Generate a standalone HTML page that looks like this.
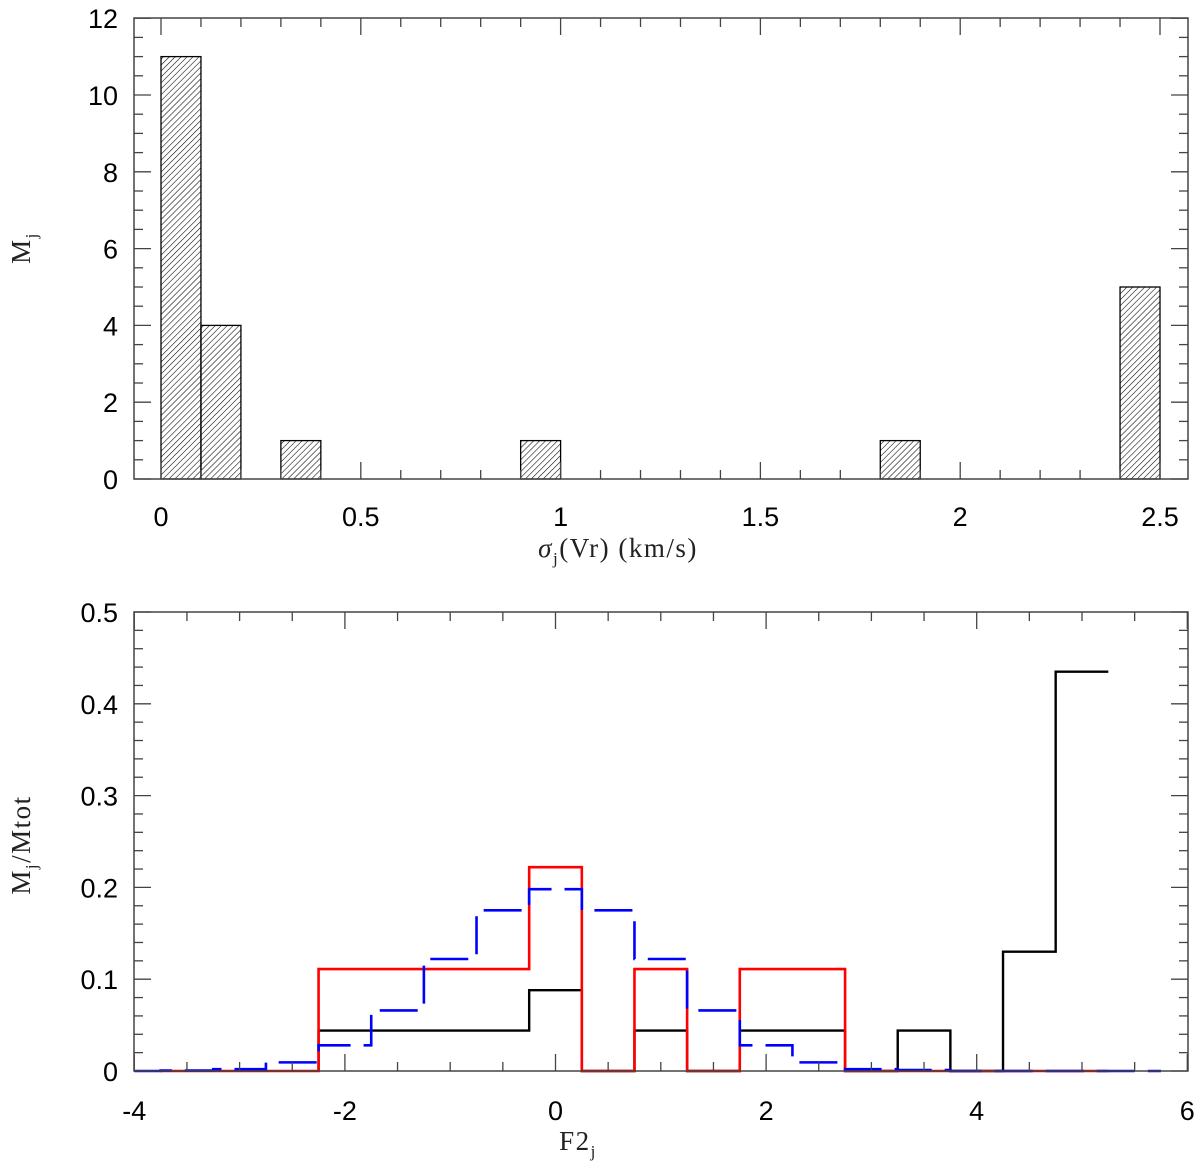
<!DOCTYPE html>
<html><head><meta charset="utf-8"><style>
body{margin:0;background:#fff}
svg{display:block}
.tl{font-family:"Liberation Sans",sans-serif;font-size:27px;fill:#000}
.al{font-family:"Liberation Serif",serif;font-size:27px;fill:#222;letter-spacing:1.5px}
</style></head><body>
<svg id="c" width="1200" height="1165" viewBox="0 0 1200 1165" xmlns="http://www.w3.org/2000/svg">
<defs><pattern id="hatch" patternUnits="userSpaceOnUse" width="4.2" height="4.2" patternTransform="rotate(45)"><line x1="0" y1="0" x2="0" y2="4.2" stroke="#000" stroke-width="1.1"/></pattern></defs>
</svg>
<script>
// Top histogram data
const topBinStart=[0,0.1,0.3,0.9,1.8,2.4];
const topBinWidth=0.1;
const topCounts=[11,4,1,1,1,5];
const topXTicks=[0,0.5,1,1.5,2,2.5];
const topYTicks=[0,2,4,6,8,10,12];
// Bottom histograms (bin edges, width 0.5)
const binEdgesBlack=[-2.25,-1.75,-1.25,-0.75,-0.25,0.25,0.75,1.25,1.75,2.25,2.75,3.25,3.75,4.25,4.75,5.25];
const blackVals=[0.044,0.044,0.044,0.044,0.088,0,0.044,0,0.044,0.044,0,0.044,0,0.13,0.435];
const binEdgesRed=[-3.75,-2.25,-0.25,0.25,0.75,1.25,1.75,2.75,5.25];
const redVals=[0,0.111,0.222,0,0.111,0,0.111,0];
const binEdgesBlue=[-4,-3.75,-3.25,-2.75,-2.25,-1.75,-1.25,-0.75,-0.25,0.25,0.75,1.25,1.75,2.25,2.75,3.25,3.75,5.75];
const blueVals=[0,0.0005,0.002,0.0094,0.028,0.066,0.122,0.175,0.198,0.175,0.122,0.066,0.028,0.0094,0.002,0.001,0];
const botXTicks=[-4,-2,0,2,4,6];
const botYTicks=[0,0.1,0.2,0.3,0.4,0.5];

const NS="http://www.w3.org/2000/svg";
const svg=document.getElementById('c');
function mk(tag,attrs,parent){const e=document.createElementNS(NS,tag);for(const k in attrs)e.setAttribute(k,attrs[k]);(parent||svg).appendChild(e);return e;}

// ---- top panel
const T={l:134,r:1188,t:18,b:479};
const tx=v=>161+v*399.6;
const ty=v=>479-v*38.4;
topCounts.forEach((c,i)=>{
 const x0=tx(topBinStart[i]),x1=tx(topBinStart[i]+topBinWidth);
 const r=mk('rect',{x:x0,y:ty(c),width:x1-x0,height:ty(0)-ty(c),fill:'url(#hatch)',stroke:'#000','stroke-width':1.3});
 
 
});
function frame(B,name){
 const f=mk('rect',{x:B.l,y:B.t,width:B.r-B.l,height:B.b-B.t,fill:'none',stroke:'#444','stroke-width':1.5});
 
 
}
frame(T,'top-plot-frame');
function tick(x1,y1,x2,y2){mk('line',{x1,y1,x2,y2,stroke:'#444','stroke-width':1.3});}
for(let k=0;k<=26;k++){const v=k*0.1;const x=tx(v);if(x>T.r)break;const L=(k%5==0)?17:9;tick(x,T.b,x,T.b-L);tick(x,T.t,x,T.t+L);}
for(let k=0;k<=24;k++){const v=k*0.5;const y=ty(v);const L=(k%4==0)?17:9;tick(T.l,y,T.l+L,y);tick(T.r,y,T.r-L,y);}
topXTicks.forEach(v=>{const t=mk('text',{x:tx(v),y:526,'text-anchor':'middle',class:'tl'});t.textContent=String(v);});
topYTicks.forEach(v=>{const t=mk('text',{x:118,y:ty(v)+10,'text-anchor':'end',class:'tl'});t.textContent=String(v);});
let a=mk('text',{x:618,y:557,'text-anchor':'middle',class:'al'});a.innerHTML='<tspan font-style="italic">σ</tspan><tspan dy="7" font-size="17">j</tspan><tspan dy="-7">(Vr)  (km/s)</tspan>';

a=mk('text',{x:0,y:0,'text-anchor':'middle',class:'al',transform:'translate(30,248) rotate(-90)'});a.innerHTML='M<tspan dy="7" font-size="17">j</tspan>';


// ---- bottom panel
const Bt={l:134,r:1188,t:612,b:1071};
const bx=v=>555.5+v*105.3;
const by=v=>1071-v*918;
function stepPath(edges,vals,startZero){
 let d='';
 for(let i=0;i<vals.length;i++){
  const x0=bx(edges[i]),x1=bx(edges[i+1]),y=by(vals[i]);
  if(i==0) d+= startZero?`M${x0},${by(0)} L${x0},${y}`:`M${x0},${y}`;
  else d+=` L${x0},${y}`;
  d+=` L${x1},${y}`;
 }
 return d;
}
let p=mk('path',{d:stepPath(binEdgesBlack,blackVals,true),fill:'none',stroke:'#000','stroke-width':2.4});

p=mk('path',{d:stepPath(binEdgesRed,redVals,false),fill:'none',stroke:'#ff0000','stroke-width':2.6});

p=mk('path',{d:stepPath(binEdgesBlue,blueVals,false),fill:'none',stroke:'#0000ff','stroke-width':2.6,'stroke-dasharray':'38 13'});

frame(Bt,'bottom-plot-frame');
for(let k=0;k<=20;k++){const v=-4+k*0.5;const x=bx(v);const L=(k%4==0)?17:9;tick(x,Bt.b,x,Bt.b-L);tick(x,Bt.t,x,Bt.t+L);}
for(let k=0;k<=25;k++){const v=k*0.02;const y=by(v);const L=(k%5==0)?17:9;tick(Bt.l,y,Bt.l+L,y);tick(Bt.r,y,Bt.r-L,y);}
botXTicks.forEach(v=>{const t=mk('text',{x:bx(v),y:1120,'text-anchor':'middle',class:'tl'});t.textContent=String(v);});
botYTicks.forEach(v=>{const t=mk('text',{x:118,y:by(v)+10,'text-anchor':'end',class:'tl'});t.textContent=v===0?'0':v.toFixed(1);});
a=mk('text',{x:578,y:1150,'text-anchor':'middle',class:'al'});a.innerHTML='F2<tspan dy="7" font-size="17">j</tspan>';

a=mk('text',{x:0,y:0,'text-anchor':'middle',class:'al',transform:'translate(30,845) rotate(-90)'});a.innerHTML='M<tspan dy="7" font-size="17">j</tspan><tspan dy="-7">/Mtot</tspan>';

</script>
</body></html>
